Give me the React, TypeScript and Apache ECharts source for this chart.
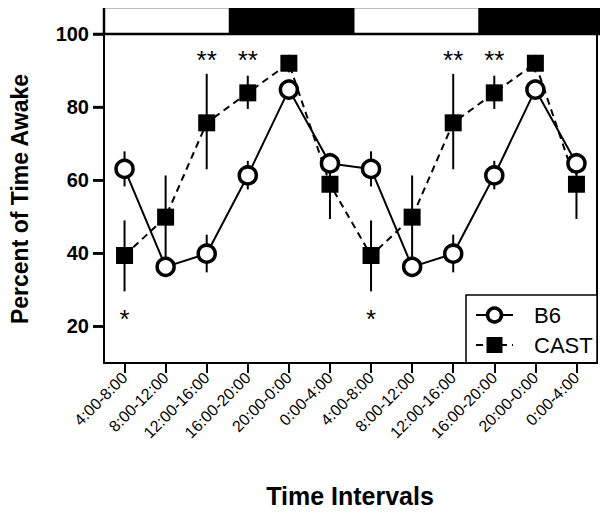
import React, { useEffect, useRef } from "react";
import * as echarts from "echarts";

const categories = [
  "4:00-8:00", "8:00-12:00", "12:00-16:00", "16:00-20:00", "20:00-0:00", "0:00-4:00",
  "4:00-8:00", "8:00-12:00", "12:00-16:00", "16:00-20:00", "20:00-0:00", "0:00-4:00",
];
const b6Mean = [63.1, 36.3, 39.9, 61.3, 84.8, 64.6, 63.1, 36.3, 39.9, 61.3, 84.8, 64.6];
const b6Low = [58.3, 33.5, 34.8, 57.5, 82.5, 61.5, 58.3, 33.5, 34.8, 57.5, 82.5, 61.5];
const b6High = [67.9, 39.0, 45.1, 65.3, 87.5, 67.5, 67.9, 39.0, 45.1, 65.3, 87.5, 67.5];
const castMean = [39.4, 49.9, 75.7, 83.9, 92.0, 58.9, 39.4, 49.9, 75.7, 83.9, 92.0, 58.9];
const castLow = [29.6, 38.3, 63.0, 79.5, 89.5, 49.4, 29.6, 38.3, 63.0, 79.5, 89.5, 49.4];
const castHigh = [49.0, 61.3, 89.1, 88.6, 94.3, 67.0, 49.0, 61.3, 89.1, 88.6, 94.3, 67.0];
const yTicks = [20, 40, 60, 80, 100];
// significance markers: [category index, value, text]
const sigMarks: [number, number, string][] = [
  [0, 23.7, "*"], [2, 94.5, "**"], [3, 94.5, "**"],
  [6, 23.7, "*"], [8, 94.5, "**"], [9, 94.5, "**"],
];
// dark phases: [first interval index, last interval index]
const darkPeriods: [number, number][] = [[3, 5], [9, 11]];
const seriesNames = ["B6", "CAST"];
const yName = "Percent of Time Awake";
const xName = "Time Intervals";

const FONT = "Liberation Sans, Arial, sans-serif";
const INK = "#000";

export default function App() {
  const ref = useRef<HTMLDivElement>(null);
  useEffect(() => {
    if (!ref.current) return;
    const chart = echarts.init(ref.current, null, { renderer: "svg" });
    const errItem = (params: any, api: any) => {
      const x = api.value(0);
      const lo = api.coord([x, api.value(1)]);
      const hi = api.coord([x, api.value(2)]);
      return {
        type: "rect",
        shape: { x: lo[0] - 1, y: hi[1], width: 2, height: lo[1] - hi[1] },
        style: { fill: INK },
      };
    };
    chart.setOption({
      animation: false,
      backgroundColor: "#fff",
      grid: [
        { left: 104, right: 11, top: 34, bottom: 150, show: true, borderColor: INK, borderWidth: 2, backgroundColor: "#fff" },
        { left: 104, right: 5, top: 7, height: 27, show: true, borderColor: INK, borderWidth: 2, backgroundColor: "#fff" },
      ],
      xAxis: [
        {
          type: "category",
          gridIndex: 0,
          data: categories,
          boundaryGap: true,
          axisLine: { show: true, lineStyle: { color: INK, width: 2 } },
          axisTick: { show: true, alignWithLabel: true, length: 10, lineStyle: { color: INK, width: 2 } },
          axisLabel: { interval: 0, rotate: 45, margin: 12, fontFamily: FONT, fontSize: 16, color: INK },
        },
        { type: "category", gridIndex: 1, data: categories, boundaryGap: true, show: false },
      ],
      yAxis: [
        {
          type: "value",
          gridIndex: 0,
          min: 10,
          max: 100,
          splitLine: { show: false },
          axisLine: { show: true, lineStyle: { color: INK, width: 2 } },
          axisTick: { show: true, length: 11, customValues: yTicks, lineStyle: { color: INK, width: 2.5 } },
          axisLabel: { customValues: yTicks, margin: 15, fontFamily: FONT, fontSize: 20, fontWeight: "bold", color: INK },
        },
        { type: "value", gridIndex: 1, min: 0, max: 1, show: false },
      ],
      series: [
        {
          type: "custom",
          name: "phase",
          xAxisIndex: 1,
          yAxisIndex: 1,
          data: darkPeriods,
          encode: { x: [0, 1] },
          clip: false,
          renderItem: (params: any, api: any) => {
            const bw = api.size([1, 0])[0];
            const a = api.coord([api.value(0), 1]);
            const b = api.coord([api.value(1), 0]);
            const x0 = a[0] - bw / 2;
            const x1 = b[0] + bw / 2;
            return {
              type: "rect",
              shape: { x: x0, y: a[1] - 1, width: x1 - x0 + 1, height: b[1] - a[1] + 1 },
              style: { fill: INK },
            };
          },
        },
        {
          type: "custom",
          name: "CAST err",
          data: categories.map((_, i) => [i, castLow[i], castHigh[i]]),
          encode: { x: 0, y: [1, 2] },
          clip: false,
          renderItem: errItem,
        },
        {
          type: "custom",
          name: "B6 err",
          data: categories.map((_, i) => [i, b6Low[i], b6High[i]]),
          encode: { x: 0, y: [1, 2] },
          clip: false,
          renderItem: errItem,
        },
        {
          type: "line",
          name: seriesNames[1],
          data: castMean,
          symbol: "rect",
          symbolSize: 17,
          clip: false,
          lineStyle: { color: INK, width: 2, type: [7, 5] },
          itemStyle: { color: INK, borderColor: INK, borderWidth: 0 },
        },
        {
          type: "line",
          name: seriesNames[0],
          data: b6Mean,
          symbol: "circle",
          symbolSize: 17,
          clip: false,
          lineStyle: { color: INK, width: 2 },
          itemStyle: { color: "#fff", borderColor: INK, borderWidth: 3.5 },
        },
        {
          type: "custom",
          name: "sig",
          data: sigMarks,
          encode: { x: 0, y: 1 },
          clip: false,
          renderItem: (params: any, api: any) => {
            const p = api.coord([api.value(0), api.value(1)]);
            return {
              type: "text",
              x: p[0],
              y: p[1] + 6,
              style: {
                text: sigMarks[params.dataIndex][2],
                fontFamily: FONT,
                fontSize: 26,
                fill: INK,
                align: "center",
                verticalAlign: "middle",
              },
            };
          },
        },
      ],
    });

    // axis decorations placed through the chart's own scales
    const c0 = chart.convertToPixel({ xAxisIndex: 0 }, 0) as number;
    const c1 = chart.convertToPixel({ xAxisIndex: 0 }, 1) as number;
    const band = c1 - c0;
    const axisX = c0 - band / 2;
    const t0 = chart.convertToPixel({ xAxisIndex: 1 }, 0) as number;
    const t1 = chart.convertToPixel({ xAxisIndex: 1 }, 1) as number;
    const tEnd = chart.convertToPixel({ xAxisIndex: 1 }, categories.length - 1) as number;
    const tBand = t1 - t0;
    const stripTop = chart.convertToPixel({ yAxisIndex: 1 }, 1) as number;
    const stripBottom = chart.convertToPixel({ yAxisIndex: 1 }, 0) as number;
    const tickEls = yTicks.map((v) => {
      const y = chart.convertToPixel({ yAxisIndex: 0 }, v) as number;
      return { type: "rect", shape: { x: axisX - 11, y: y - 1.25, width: 11, height: 2.5 }, style: { fill: INK } };
    });

    chart.setOption({
      graphic: [
        ...tickEls,
        {
          type: "rect",
          shape: { x: t0 - tBand / 2, y: stripTop, width: tEnd - t0 + tBand, height: stripBottom - stripTop },
          style: { fill: "none", stroke: INK, lineWidth: 2.5 },
        },
        {
          type: "text", x: 20, y: 199, rotation: Math.PI / 2,
          style: { text: yName, fontFamily: FONT, fontSize: 23, fontWeight: "bold", fill: INK, align: "center", verticalAlign: "middle" },
        },
        {
          type: "text", x: 350, y: 496,
          style: { text: xName, fontFamily: FONT, fontSize: 25, fontWeight: "bold", fill: INK, align: "center", verticalAlign: "middle" },
        },
        {
          type: "group",
          children: [
            { type: "rect", shape: { x: 466, y: 295, width: 131, height: 68 }, style: { fill: "#fff", stroke: INK, lineWidth: 1.5 } },
            { type: "line", shape: { x1: 476, y1: 315, x2: 513, y2: 315 }, style: { stroke: INK, lineWidth: 2 } },
            { type: "circle", shape: { cx: 494.5, cy: 315, r: 7 }, style: { fill: "#fff", stroke: INK, lineWidth: 3.5 } },
            { type: "text", x: 534, y: 315, style: { text: seriesNames[0], fontFamily: FONT, fontSize: 22, fill: INK, align: "left", verticalAlign: "middle" } },
            { type: "line", shape: { x1: 476, y1: 345, x2: 513, y2: 345 }, style: { stroke: INK, lineWidth: 2, lineDash: [7, 5] } },
            { type: "rect", shape: { x: 486.5, y: 337, width: 16, height: 16 }, style: { fill: INK } },
            { type: "text", x: 534, y: 345, style: { text: seriesNames[1], fontFamily: FONT, fontSize: 22, fill: INK, align: "left", verticalAlign: "middle" } },
          ],
        },
      ],
    });
    return () => chart.dispose();
  }, []);
  return <div ref={ref} style={{ width: 608, height: 513, margin: -8 }} />;
}
